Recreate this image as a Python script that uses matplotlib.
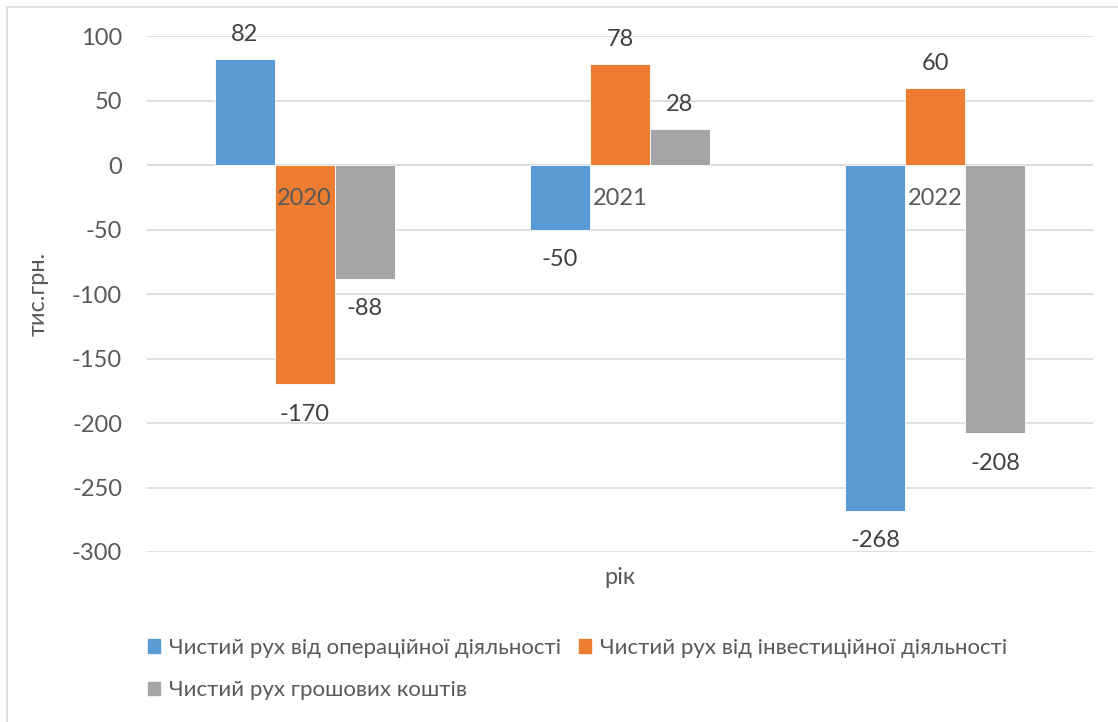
import matplotlib.pyplot as plt
from matplotlib.patches import Patch
import numpy as np

plt.rcParams['font.family'] = ['Lato', 'DejaVu Sans']
plt.rcParams['axes.unicode_minus'] = False

years = ["2020", "2021", "2022"]
series_names = [
    "Чистий рух від операційної діяльності",
    "Чистий рух від інвестиційної діяльності",
    "Чистий рух грошових коштів",
]
operating = [82, -50, -268]
investing = [-170, 78, 60]
net_cash = [-88, 28, -208]
colors = ["#5B9BD5", "#ED7D31", "#A5A5A5"]
text_color = "#595959"
fs = 17

fig = plt.figure(figsize=(11.18, 7.22), dpi=100)
# chart frame
fig.patches.append(plt.Rectangle((7 / 1118, -0.01), 1.02, 1 - 7 / 722 + 0.01,
                                 transform=fig.transFigure, fill=False,
                                 edgecolor="#D9D9D9", linewidth=1.2))
ax = fig.add_axes([147 / 1118, 1 - 552 / 722, (1093 - 147) / 1118, (552 - 36) / 722])

x = np.arange(len(years))
width = 0.19
for i, (vals, col) in enumerate(zip([operating, investing, net_cash], colors)):
    pos = x + (i - 1) * width
    ax.bar(pos, vals, width, color=col, edgecolor="white", linewidth=0.6,
           label=series_names[i], zorder=3)
    for px, v in zip(pos, vals):
        off = 10 if v >= 0 else -14
        ax.annotate(str(v), (px, v), xytext=(0, off), textcoords="offset points",
                    ha="center", va="bottom" if v >= 0 else "top",
                    fontsize=fs, color="#404040")

ax.set_xlim(-0.5, 2.5)
ax.set_ylim(-300, 100)
ax.set_yticks(np.arange(-300, 101, 50))
ax.grid(axis="y", color="#D9D9D9", linewidth=1.2, zorder=0)
ax.axhline(0, color="#D9D9D9", linewidth=1.2, zorder=1)
for s in ax.spines.values():
    s.set_visible(False)
ax.tick_params(axis="y", length=0, pad=18, labelsize=fs, labelcolor=text_color)
ax.set_xticks([])

# category labels sit next to the zero line
for xi, yr in zip(x, years):
    ax.annotate(yr, (xi, 0), xytext=(0, -24), textcoords="offset points",
                ha="center", va="center", fontsize=fs, color=text_color)

ax.set_ylabel("тис.грн.", fontsize=fs, color=text_color)
ax.yaxis.set_label_coords(-0.104, 0.5)
fig.text(620 / 1118, 1 - 577 / 722, "рік", ha="center", va="center",
         fontsize=fs, color=text_color)

handles = [Patch(color=c) for c in colors]
order = [0, 2, 1]
leg = fig.legend([handles[k] for k in order], [series_names[k] for k in order],
                 ncol=2, loc="upper left", bbox_to_anchor=(128 / 1118, 1 - 618 / 722),
                 frameon=False, fontsize=16, handlelength=0.55, handleheight=0.55,
                 handletextpad=0.4, columnspacing=0.8, labelspacing=1.0)
for t in leg.get_texts():
    t.set_color(text_color)

fig.savefig("out.png", dpi=100)
